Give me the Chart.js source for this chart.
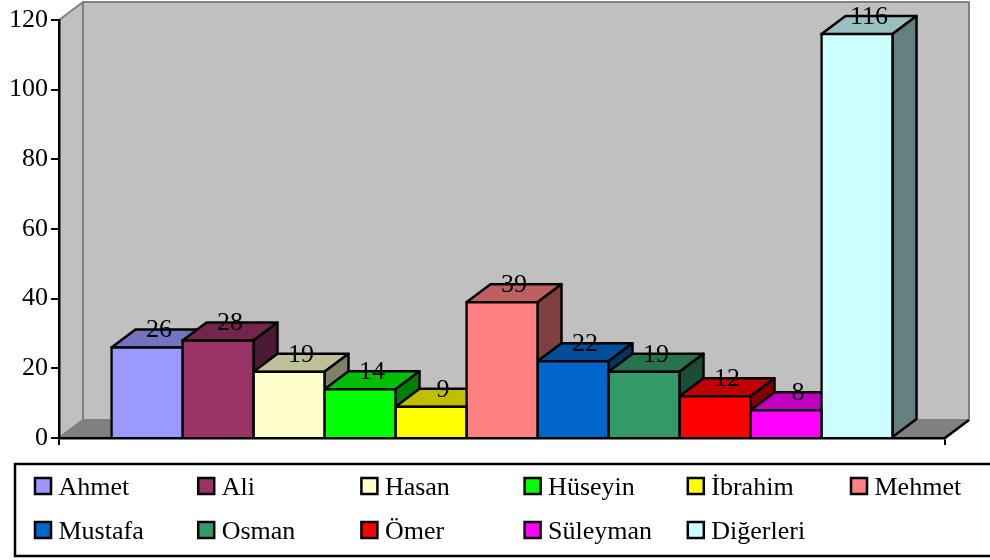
<!DOCTYPE html>
<html>
<head>
<meta charset="utf-8">
<title>İsimler</title>
<script src="https://cdn.jsdelivr.net/npm/chart.js@4"></script>
<style>
    html, body { margin: 0; padding: 0; background: #fff; }
    canvas { display: block; }
</style>
</head>
<body>
<canvas id="chart" width="990" height="560"></canvas>
<script>
// Values
const names = ['Ahmet', 'Ali', 'Hasan', 'Hüseyin', 'İbrahim', 'Mehmet', 'Mustafa', 'Osman', 'Ömer', 'Süleyman', 'Diğerleri'];
const counts = [26, 28, 19, 14, 9, 39, 22, 19, 12, 8, 116];
const colors = ['#9999FF', '#993366', '#FFFFCC', '#00FF00', '#FFFF00', '#FF8080', '#0066CC', '#339966', '#FF0000', '#FF00FF', '#CCFFFF'];
const yTicks = [0, 20, 40, 60, 80, 100, 120];

const FONT = '26px "Liberation Serif"';
const DEPTH_X = 24;
const DEPTH_Y = 18;
const LINE = 2.5;

// Darken a hex colour for the shaded faces of the bars
function shade(hex, factor) {
    const n = parseInt(hex.slice(1), 16);
    const r = Math.round((n >> 16) * factor);
    const g = Math.round(((n >> 8) & 255) * factor);
    const b = Math.round((n & 255) * factor);
    return `rgb(${r}, ${g}, ${b})`;
}

function face(ctx, points, fill, stroke, width) {
    ctx.beginPath();
    points.forEach((p, i) => i ? ctx.lineTo(p[0], p[1]) : ctx.moveTo(p[0], p[1]));
    ctx.closePath();
    ctx.fillStyle = fill;
    ctx.fill();
    ctx.strokeStyle = stroke;
    ctx.lineWidth = width;
    ctx.lineJoin = 'round';
    ctx.stroke();
}

// Back wall, side wall and floor behind the bars
const wallsPlugin = {
    id: 'walls',
    beforeDraw(chart) {
        const { ctx, chartArea: a } = chart;
        const dx = DEPTH_X, dy = DEPTH_Y;
        ctx.save();
        face(ctx, [[a.left, a.top], [a.left + dx, a.top - dy], [a.left + dx, a.bottom - dy], [a.left, a.bottom]], '#C0C0C0', '#808080', 2);
        face(ctx, [[a.left + dx, a.top - dy], [a.right + dx, a.top - dy], [a.right + dx, a.bottom - dy], [a.left + dx, a.bottom - dy]], '#C0C0C0', '#808080', 2);
        face(ctx, [[a.left, a.bottom], [a.left + dx, a.bottom - dy], [a.right + dx, a.bottom - dy], [a.right, a.bottom]], '#808080', '#808080', 2);
        ctx.strokeStyle = '#000';
        ctx.lineWidth = LINE;
        ctx.beginPath();
        ctx.moveTo(a.right, a.bottom);
        ctx.lineTo(a.right + dx, a.bottom - dy);
        ctx.stroke();
        ctx.restore();
    }
};

// Top and side faces go under the fronts the library draws
const boxPlugin = {
    id: 'boxes',
    beforeDatasetsDraw(chart) {
        const { ctx } = chart;
        const dx = DEPTH_X, dy = DEPTH_Y;
        ctx.save();
        chart.data.datasets.forEach((ds, i) => {
            const bar = chart.getDatasetMeta(i).data[0];
            const half = bar.width / 2;
            const l = bar.x - half, r = bar.x + half, t = bar.y, b = bar.base;
            face(ctx, [[l, t], [l + dx, t - dy], [r + dx, t - dy], [r, t]], shade(colors[i], 0.75), '#000', LINE);
            face(ctx, [[r, t], [r + dx, t - dy], [r + dx, b - dy], [r, b]], shade(colors[i], 0.5), '#000', LINE);
        });
        ctx.restore();
    },
    afterDatasetsDraw(chart) {
        const { ctx } = chart;
        ctx.save();
        ctx.font = FONT;
        ctx.fillStyle = '#000';
        ctx.textAlign = 'center';
        ctx.textBaseline = 'alphabetic';
        chart.data.datasets.forEach((ds, i) => {
            const bar = chart.getDatasetMeta(i).data[0];
            ctx.fillText(String(ds.data[0]), bar.x + DEPTH_X / 2, bar.y - 10);
        });
        ctx.restore();
    }
};

// Legend box with fixed columns, bleeding off the right edge like the original
const legendPlugin = {
    id: 'boxLegend',
    afterDraw(chart) {
        const { ctx } = chart;
        ctx.save();
        ctx.strokeStyle = '#000';
        ctx.lineWidth = LINE;
        ctx.beginPath();
        ctx.moveTo(990, 464);
        ctx.lineTo(15, 464);
        ctx.lineTo(15, 556);
        ctx.lineTo(990, 556);
        ctx.stroke();
        ctx.font = FONT;
        ctx.textAlign = 'left';
        ctx.textBaseline = 'alphabetic';
        names.forEach((name, i) => {
            const col = i % 6, row = Math.floor(i / 6);
            const x = 35 + col * 163.2;
            const y = 478 + row * 44;
            ctx.fillStyle = colors[i];
            ctx.fillRect(x, y, 16, 16);
            ctx.strokeStyle = '#000';
            ctx.lineWidth = LINE;
            ctx.strokeRect(x, y, 16, 16);
            ctx.fillStyle = '#000';
            ctx.fillText(name, x + 23.5, y + 17);
        });
        ctx.restore();
    }
};

new Chart(document.getElementById('chart'), {
    type: 'bar',
    data: {
        labels: [''],
        datasets: names.map((name, i) => ({
            label: name,
            data: [counts[i]],
            backgroundColor: colors[i],
            borderColor: '#000',
            borderWidth: LINE,
            inflateAmount: LINE / 2
        }))
    },
    options: {
        responsive: false,
        animation: false,
        layout: { padding: { top: 20, right: 45, left: 0, bottom: 0 } },
        datasets: { bar: { categoryPercentage: 0.8815, barPercentage: 1 } },
        plugins: { legend: { display: false }, tooltip: { enabled: false } },
        scales: {
            x: {
                afterFit: s => { s.height = 122; },
                ticks: { display: false },
                grid: { drawOnChartArea: false, color: '#000', lineWidth: 2, tickLength: 7 },
                border: { color: '#000', width: LINE }
            },
            y: {
                min: yTicks[0],
                max: yTicks[yTicks.length - 1],
                afterFit: s => { s.width = 59; },
                afterBuildTicks: s => { s.ticks = yTicks.map(v => ({ value: v })); },
                ticks: { color: '#000', font: { family: 'Liberation Serif', size: 26 }, padding: 3 },
                grid: { drawOnChartArea: false, color: '#000', lineWidth: 2, tickLength: 8 },
                border: { color: '#000', width: LINE }
            }
        }
    },
    plugins: [wallsPlugin, boxPlugin, legendPlugin]
});
</script>
</body>
</html>
